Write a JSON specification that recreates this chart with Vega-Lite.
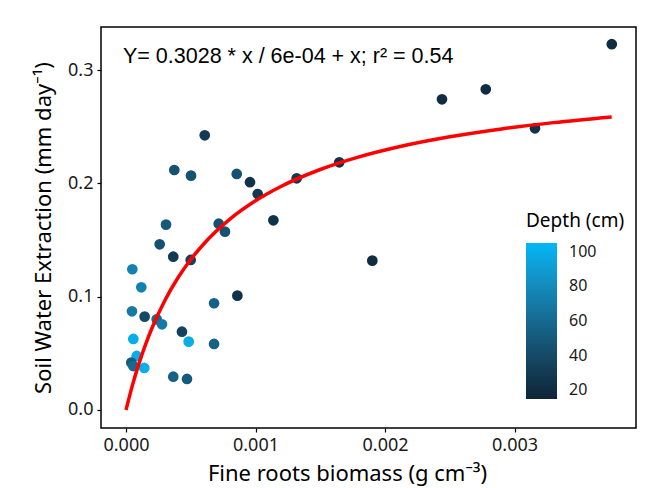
{
  "$schema": "https://vega.github.io/schema/vega-lite/v6.json",
  "width": 535,
  "height": 401,
  "autosize": {"type": "none"},
  "padding": {"left": 101, "top": 27, "right": 23, "bottom": 60},
  "background": "white",
  "config": {
    "view": {"stroke": "black", "strokeWidth": 1.5},
    "font": "Noto Sans",
    "axis": {
      "grid": false,
      "domain": false,
      "ticks": true,
      "tickColor": "black",
      "tickSize": 4,
      "tickWidth": 1.2,
      "labelColor": "#1a1a1a",
      "labelFont": "Noto Sans",
      "labelFontSize": 18,
      "titleFont": "Noto Sans",
      "titleFontSize": 22,
      "titleFontWeight": "normal",
      "titleColor": "black"
    }
  },
  "datasets": {
    "points": [
      {"biomass": 0.003751, "extraction": 0.3228, "depth": 20},
      {"biomass": 0.00244, "extraction": 0.2742, "depth": 20},
      {"biomass": 0.002778, "extraction": 0.283, "depth": 20},
      {"biomass": 0.003158, "extraction": 0.2486, "depth": 25},
      {"biomass": 0.001647, "extraction": 0.2186, "depth": 25},
      {"biomass": 0.001902, "extraction": 0.1318, "depth": 20},
      {"biomass": 0.001318, "extraction": 0.2045, "depth": 30},
      {"biomass": 0.001138, "extraction": 0.1674, "depth": 25},
      {"biomass": 0.001017, "extraction": 0.1906, "depth": 30},
      {"biomass": 0.0009575, "extraction": 0.201, "depth": 25},
      {"biomass": 0.000855, "extraction": 0.2083, "depth": 45},
      {"biomass": 0.00086, "extraction": 0.1009, "depth": 25},
      {"biomass": 0.000764, "extraction": 0.1574, "depth": 45},
      {"biomass": 0.000716, "extraction": 0.1644, "depth": 45},
      {"biomass": 0.000608, "extraction": 0.2424, "depth": 30},
      {"biomass": 0.000502, "extraction": 0.2068, "depth": 45},
      {"biomass": 0.000373, "extraction": 0.2118, "depth": 45},
      {"biomass": 0.000309, "extraction": 0.1636, "depth": 50},
      {"biomass": 0.00026, "extraction": 0.1462, "depth": 45},
      {"biomass": 0.000365, "extraction": 0.1353, "depth": 30},
      {"biomass": 0.0004996, "extraction": 0.1324, "depth": 35},
      {"biomass": 0.000049, "extraction": 0.1242, "depth": 75},
      {"biomass": 0.000118, "extraction": 0.1083, "depth": 75},
      {"biomass": 0.00068, "extraction": 0.0942, "depth": 55},
      {"biomass": 0.000046, "extraction": 0.0871, "depth": 70},
      {"biomass": 0.000144, "extraction": 0.0824, "depth": 40},
      {"biomass": 0.000237, "extraction": 0.08, "depth": 60},
      {"biomass": 0.000278, "extraction": 0.0756, "depth": 70},
      {"biomass": 0.000432, "extraction": 0.0691, "depth": 35},
      {"biomass": 0.0000566, "extraction": 0.0627, "depth": 100},
      {"biomass": 0.000484, "extraction": 0.0603, "depth": 100},
      {"biomass": 0.00068, "extraction": 0.0583, "depth": 55},
      {"biomass": 0.0000826, "extraction": 0.0477, "depth": 100},
      {"biomass": 0.000041, "extraction": 0.0418, "depth": 50},
      {"biomass": 0.0000566, "extraction": 0.0388, "depth": 60},
      {"biomass": 0.000141, "extraction": 0.0371, "depth": 100},
      {"biomass": 0.000365, "extraction": 0.0294, "depth": 55},
      {"biomass": 0.000471, "extraction": 0.0274, "depth": 50}
    ],
    "curve": [
      {"biomass": 0, "fit": 0},
      {"biomass": 0.00005, "fit": 0.02194},
      {"biomass": 0.0001, "fit": 0.04092},
      {"biomass": 0.00015, "fit": 0.05749},
      {"biomass": 0.0002, "fit": 0.0721},
      {"biomass": 0.0003, "fit": 0.09664},
      {"biomass": 0.0004, "fit": 0.11646},
      {"biomass": 0.0005, "fit": 0.13281},
      {"biomass": 0.0006, "fit": 0.14652},
      {"biomass": 0.0008, "fit": 0.16822},
      {"biomass": 0.001, "fit": 0.18463},
      {"biomass": 0.0012, "fit": 0.19748},
      {"biomass": 0.0015, "fit": 0.21224},
      {"biomass": 0.0018, "fit": 0.22338},
      {"biomass": 0.0021, "fit": 0.23207},
      {"biomass": 0.0025, "fit": 0.24108},
      {"biomass": 0.0029, "fit": 0.24805},
      {"biomass": 0.0033, "fit": 0.25361},
      {"biomass": 0.00375, "fit": 0.25866}
    ],
    "label": [
      {"biomass": -0.0000232, "extraction": 0.3065, "text": "Y= 0.3028 * x / 6e-04 + x; r² = 0.54"}
    ]
  },
  "layer": [
    {
      "data": {"name": "points"},
      "mark": {"type": "circle", "size": 115, "opacity": 1},
      "encoding": {
        "x": {
          "field": "biomass",
          "type": "quantitative",
          "scale": {"domain": [-0.000193, 0.003938], "nice": false, "zero": false},
          "axis": {"title": "Fine roots biomass (g cm⁻³)", "values": [0, 0.001, 0.002, 0.003], "format": ".3f", "labelPadding": 4, "titlePadding": 9, "titleX": 246, "titleAlign": "center"}
        },
        "y": {
          "field": "extraction",
          "type": "quantitative",
          "scale": {"domain": [-0.0159, 0.338], "nice": false, "zero": false},
          "axis": {"title": "Soil Water Extraction (mm day⁻¹)", "values": [0, 0.1, 0.2, 0.3], "format": ".1f", "labelPadding": 4, "titlePadding": 12}
        },
        "color": {
          "field": "depth",
          "type": "quantitative",
          "scale": {"domain": [15, 105], "range": ["#0e2537", "#00b7f6"], "interpolate": "lab"},
          "legend": {
            "title": "Depth (cm)",
            "orient": "none",
            "legendX": 425,
            "legendY": 185,
            "values": [20, 40, 60, 80, 100],
            "gradientLength": 156,
            "gradientThickness": 31,
            "gradientStrokeWidth": 0,
            "direction": "vertical",
            "titleFontSize": 19,
            "titleFontWeight": "normal",
            "titleFont": "Noto Sans",
            "titleColor": "black",
            "titlePadding": 12,
            "labelFontSize": 16,
            "labelFont": "Noto Sans",
            "labelColor": "#1a1a1a",
            "labelOffset": 12
          }
        }
      }
    },
    {
      "data": {"name": "curve"},
      "mark": {"type": "line", "color": "#ff0000", "strokeWidth": 3.5, "interpolate": "monotone"},
      "encoding": {
        "x": {"field": "biomass", "type": "quantitative"},
        "y": {"field": "fit", "type": "quantitative"}
      }
    },
    {
      "data": {"name": "label"},
      "mark": {"type": "text", "align": "left", "baseline": "alphabetic", "font": "Liberation Sans", "fontSize": 21.5, "color": "black"},
      "encoding": {
        "x": {"field": "biomass", "type": "quantitative"},
        "y": {"field": "extraction", "type": "quantitative"},
        "text": {"field": "text"}
      }
    }
  ]
}
